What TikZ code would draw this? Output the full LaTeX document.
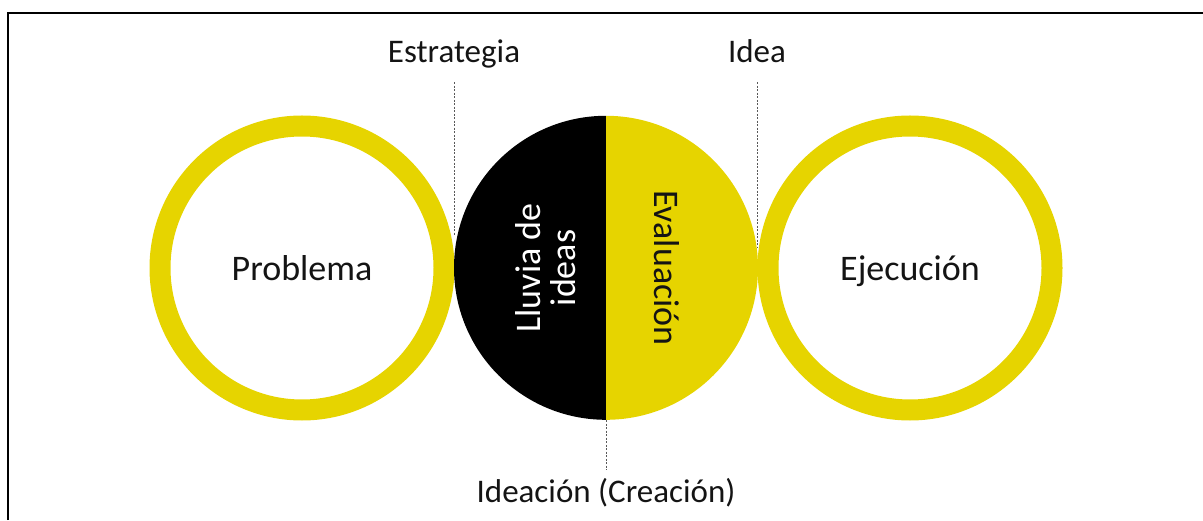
\documentclass[tikz,border=0pt]{standalone}
\usepackage{fontspec}
\setmainfont{Carlito}
\usetikzlibrary{positioning}
\definecolor{amarillo}{RGB}{230,212,0}
\definecolor{texto}{RGB}{20,20,20}

\begin{document}
\begin{tikzpicture}[x=1pt,y=1pt]
\tikzstyle{every node}+=[inner sep=0pt, text=texto]
\tikzstyle{anillo}=[circle, draw=amarillo, line width=21pt, minimum size=284pt, text height=26pt, text depth=0pt, font=\fontsize{36}{36}\selectfont]
\tikzstyle{etiqueta}=[anchor=base, text height=25pt, text depth=8pt, font=\fontsize{33}{33}\selectfont]
\tikzstyle{guia}=[draw=gray!70!black, line width=0.8pt, dash pattern=on 2pt off 1.5pt]
\useasboundingbox (0,0) rectangle (1203,520);
% marco
\draw [line width=2pt] (8,0) -- (8,507) -- (1203,507);
% circulos
\node [anillo] (problema) at (302,252) {Problema};
\node [anillo] (ejecucion) at (910,252) {Ejecución};
\node [circle, minimum size=304pt] (ideacion) at (606,252) {};
\fill [black] (ideacion.north) arc[start angle=90, end angle=270, radius=152pt] -- cycle;
\fill [amarillo] (ideacion.north) arc[start angle=90, end angle=-90, radius=152pt] -- cycle;
\node [rotate=90, align=center, text=white, font=\fontsize{36}{35}\selectfont] (lluvia) at (546,252) {Lluvia de\\ideas};
\node [rotate=-90, font=\fontsize{36}{36}\selectfont] (evaluacion) at (667,252) {Evaluación};
% etiquetas
\node [etiqueta] (estrategia) at (454,457) {Estrategia};
\node [etiqueta] (idea) at (757,457) {Idea};
\node [etiqueta] (creacion) at (606,18) {Ideación (Creación)};
\coordinate (toque1) at (454,285);
\coordinate (toque2) at (757,273);
\draw [guia, shorten <=11pt] (estrategia.south) -- (toque1);
\draw [guia, shorten <=11pt] (idea.south) -- (toque2);
\draw [guia, shorten >=7pt] (ideacion.south) -- (creacion.north);
\end{tikzpicture}
\end{document}
